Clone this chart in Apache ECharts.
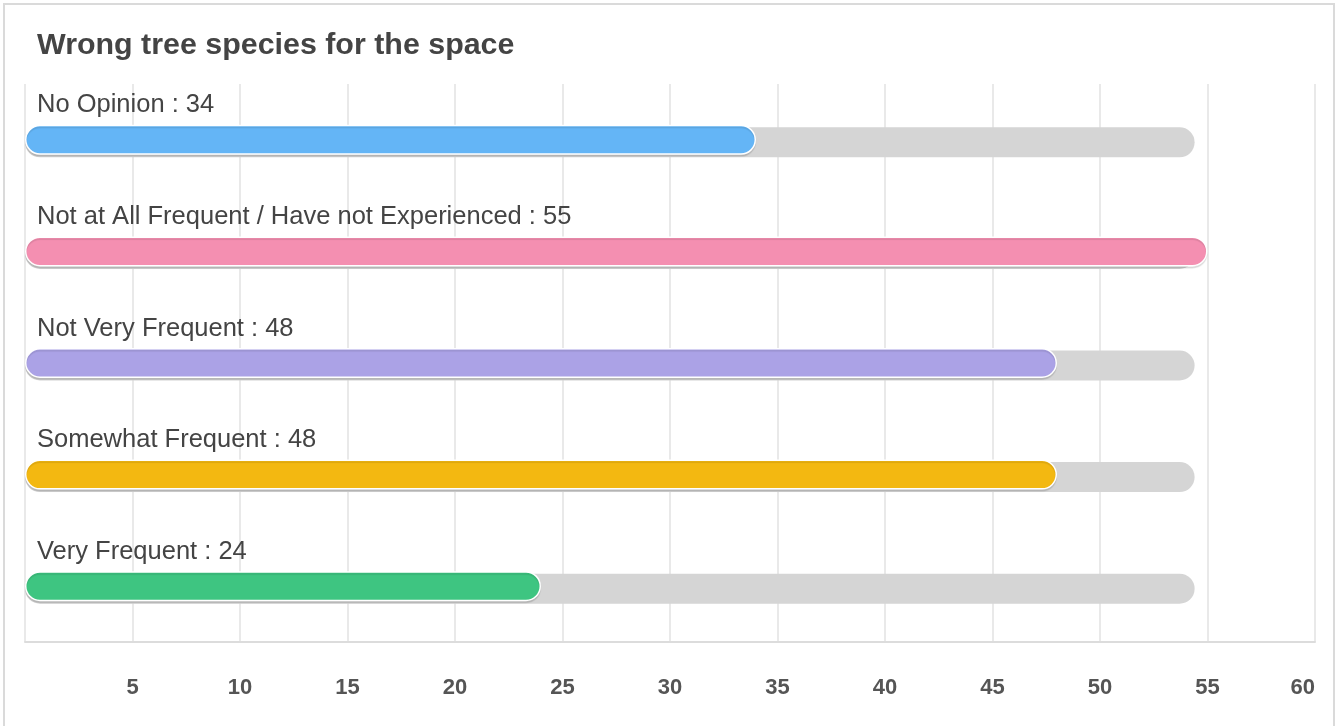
<!DOCTYPE html>
<html>
<head>
<meta charset="utf-8">
<script src="https://cdn.jsdelivr.net/npm/echarts@6/dist/echarts.min.js"></script>
<style>
  html, body { margin: 0; padding: 0; background: #fff; overflow: hidden; }
  #myChart { position: absolute; left: 0; top: 0; width: 1337px; height: 726px; }
  .frame {
    position: absolute; left: 3px; top: 3px; width: 1328px; height: 800px;
    border: 2px solid #dadada; pointer-events: none;
  }
</style>
</head>
<body>
<div id="myChart"></div>
<div class="frame"></div>
<script>
let categories = ['No Opinion', 'Not at All Frequent / Have not Experienced', 'Not Very Frequent', 'Somewhat Frequent', 'Very Frequent']
let values = [34, 55, 48, 48, 24]
let trackValues = [54.4, 54.4, 54.4, 54.4, 54.4]
let barColors = ['#64b5f6', '#f48fb1', '#aba2e6', '#f3b811', '#3ec581']
let tickLabels = ['0', '5', '10', '15', '20', '25', '30', '35', '40', '45', '50', '55', '60']

let myChart = echarts.init(document.getElementById('myChart'))

let option = {
  animation: false,
  backgroundColor: '#fff',
  title: {
    text: 'Wrong tree species for the space',
    left: 37,
    top: 31,
    padding: 0,
    textStyle: {
      fontFamily: 'Liberation Sans',
      fontSize: 30.4,
      fontWeight: 'bold',
      color: '#444'
    }
  },
  // second grid carries the grey track, sitting a touch lower like the original
  grid: [
    { left: 25, right: 22, top: 84, bottom: 84 },
    { left: 25, right: 22, top: 86.5, bottom: 81.5 }
  ],
  xAxis: [
    {
      type: 'value',
      gridIndex: 0,
      min: 0,
      max: 60,
      interval: 5,
      axisTick: { show: false },
      axisLine: { show: true, lineStyle: { color: '#dcdcdc', width: 2 } },
      splitLine: { show: true, lineStyle: { color: '#e2e2e2', width: 1.5 } },
      axisLabel: {
        showMinLabel: false,
        alignMaxLabel: 'right',
        margin: 35,
        fontFamily: 'Liberation Sans',
        fontSize: 22,
        fontWeight: 'bold',
        color: '#555',
        formatter: function (v) {
          return tickLabels[v / 5]
        }
      }
    },
    {
      type: 'value',
      gridIndex: 1,
      min: 0,
      max: 60,
      show: false
    }
  ],
  yAxis: [
    {
      type: 'category',
      gridIndex: 0,
      inverse: true,
      data: categories,
      axisLine: { show: false },
      axisTick: { show: false },
      axisLabel: { show: false },
      splitLine: { show: false }
    },
    {
      type: 'category',
      gridIndex: 1,
      inverse: true,
      data: categories,
      show: false
    }
  ],
  series: [
    {
      name: 'track',
      type: 'bar',
      xAxisIndex: 1,
      yAxisIndex: 1,
      data: trackValues,
      barWidth: 30,
      silent: true,
      itemStyle: {
        color: '#d5d5d5',
        borderRadius: 15
      },
      z: 1
    },
    {
      name: 'value',
      type: 'bar',
      xAxisIndex: 0,
      yAxisIndex: 0,
      barWidth: 30,
      data: values.map(function (v, i) {
        return { value: v, itemStyle: { color: barColors[i] } }
      }),
      itemStyle: {
        borderColor: '#fff',
        borderWidth: 1.5,
        borderRadius: 15,
        shadowColor: 'rgba(0,0,0,0.1)',
        shadowBlur: 1,
        shadowOffsetY: 2
      },
      label: {
        show: true,
        position: [12, -19.5],
        align: 'left',
        verticalAlign: 'middle',
        fontFamily: 'Liberation Sans',
        fontSize: 25.5,
        color: '#444',
        formatter: '{b} : {c}'
      },
      z: 2
    }
  ]
}
myChart.setOption(option, true)
</script>
</body>
</html>
